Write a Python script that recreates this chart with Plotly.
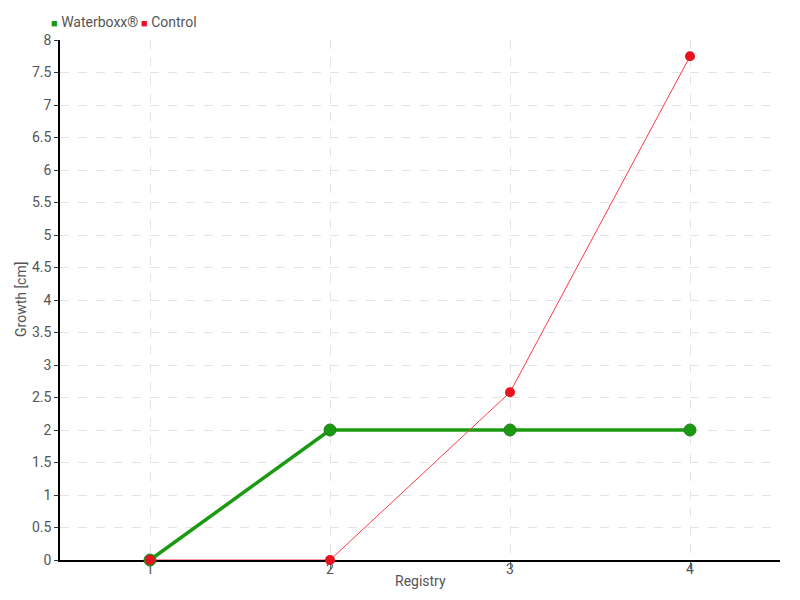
import plotly.graph_objects as go

registry = [1, 2, 3, 4]
waterboxx = [0, 2, 2, 2]
control = [0, 0, 2.58, 7.75]
y_ticks = [0, 0.5, 1, 1.5, 2, 2.5, 3, 3.5, 4, 4.5, 5, 5.5, 6, 6.5, 7, 7.5, 8]
series_names = ["Waterboxx®", "Control"]
x_title = "Registry"
y_title = "Growth [cm]"

FONT = "Roboto, sans-serif"
GREEN = "#1a9a10"
RED = "#e8121e"
TEXT = "#555555"

W, H = 784, 584  # page adds 8px body margin
ML, MR, MT, MB = 52, 12, 32, 32
PW, PH = W - ML - MR, H - MT - MB

fig = go.Figure()
fig.add_trace(go.Scatter(
    x=registry, y=waterboxx, name=series_names[0], mode="lines+markers", showlegend=False,
    line=dict(color=GREEN, width=3.5), cliponaxis=False,
    marker=dict(color=GREEN, size=12, line=dict(color="#2a7a20", width=1), symbol="circle"),
))
fig.add_trace(go.Scatter(
    x=registry, y=control, name=series_names[1], mode="lines+markers", showlegend=False,
    line=dict(color="#ff3848", width=1), cliponaxis=False,
    marker=dict(color=RED, size=10, symbol="circle"),
))

def px_x(px):
    return (px - 8 - ML) / PW

def px_y(py):
    return (H - MB - (py - 8)) / PH

legend_items = [(series_names[0], GREEN, 49), (series_names[1], RED, 139)]
for name, col, xpix in legend_items:
    fig.add_annotation(
        text=f"<span style='color:{col};font-size:11px'>■</span> {name}",
        xref="paper", yref="paper", x=px_x(xpix), y=px_y(22),
        xanchor="left", yanchor="middle", showarrow=False,
        font=dict(family=FONT, size=14, color=TEXT),
    )

fig.add_annotation(text=x_title, xref="paper", yref="paper", x=px_x(420), y=px_y(581),
                   xanchor="center", yanchor="middle", showarrow=False,
                   font=dict(family=FONT, size=14, color=TEXT))
fig.add_annotation(text=y_title, xref="paper", yref="paper", x=px_x(21), y=px_y(300),
                   xanchor="center", yanchor="middle", showarrow=False, textangle=-90,
                   font=dict(family=FONT, size=14, color=TEXT))

fig.update_layout(
    width=W, height=H,
    paper_bgcolor="white", plot_bgcolor="white",
    margin=dict(l=ML, r=MR, t=MT, b=MB, autoexpand=False),
    font=dict(family=FONT, size=14, color=TEXT),
    showlegend=False,
    xaxis=dict(
        range=[0.5, 4.5], tickvals=registry, ticktext=[str(r) for r in registry],
        showgrid=True, gridcolor="#e4e4e4", griddash="dash", gridwidth=1,
        showline=True, linecolor="black", linewidth=1.5, layer="below traces",
        ticks="outside", ticklen=7, tickcolor="#666666", automargin=False,
        ticklabelstandoff=-12,
        zeroline=False,
        tickfont=dict(size=14, color=TEXT),
    ),
    yaxis=dict(
        range=[0, 8], tickvals=y_ticks, ticktext=[f"{v:g}" for v in y_ticks],
        showgrid=True, gridcolor="#e4e4e4", griddash="dash", gridwidth=1,
        showline=True, linecolor="black", linewidth=1.5, layer="below traces",
        ticks="outside", ticklen=4, tickcolor="#333333", automargin=False,
        zeroline=False,
        tickfont=dict(size=14, color=TEXT),
    ),
)

fig.write_html("out.html")
